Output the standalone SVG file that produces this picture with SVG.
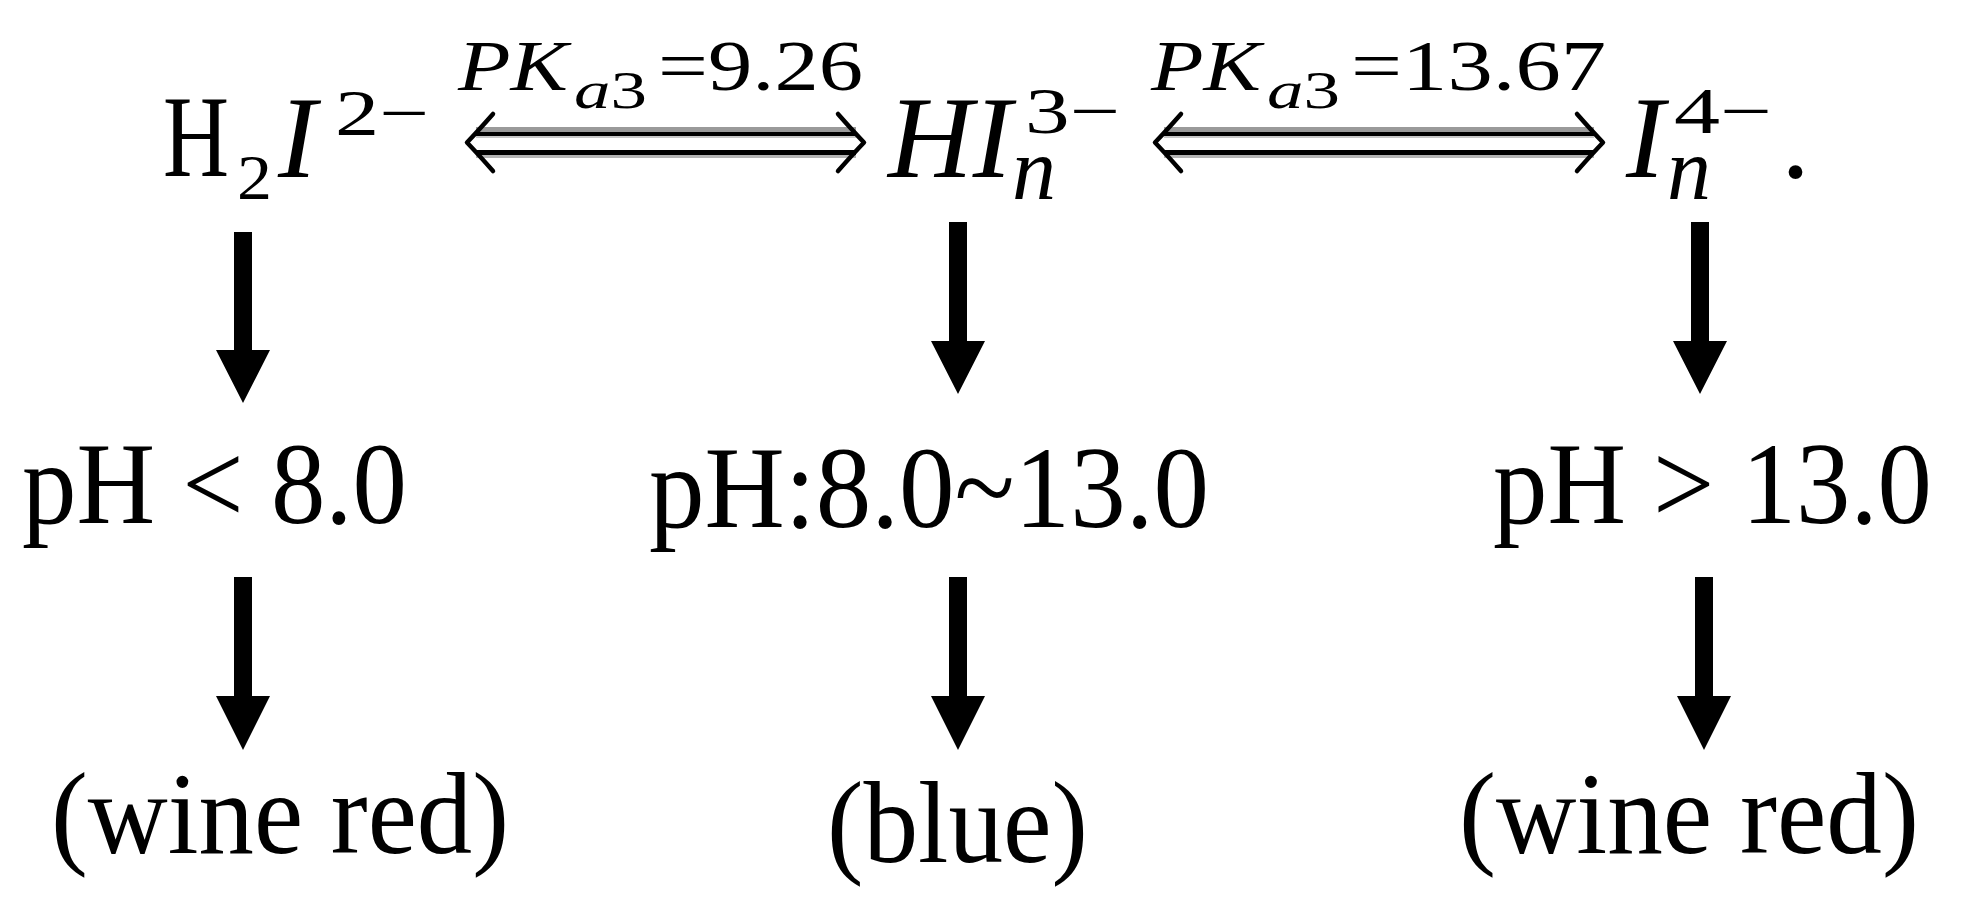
<svg xmlns="http://www.w3.org/2000/svg" width="1965" height="911" viewBox="0 0 1965 911">
<style>
.t{font-family:"Liberation Serif","Times New Roman",serif;fill:#000}
.i{font-style:italic}
.m{font-size:116px}
.sup{font-size:66px}
.sub{font-size:88px}
.lab{font-size:71px}
.labs{font-size:53px}
.arr{fill:#000}
.hook{fill:none;stroke:#000;stroke-width:4.5;stroke-linecap:round;stroke-linejoin:round}
.g1{fill:#9a9a9a}
.g2{fill:#c8c8c8}
.g3{fill:#b4b4b4}
.bk{fill:#000}
</style>
<rect width="1965" height="911" fill="#fff"/>

<g id="node-H2I">
<text class="t m" x="163" y="176" textLength="66" lengthAdjust="spacingAndGlyphs">H</text>
<text class="t" style="font-size:64px" x="237" y="199" textLength="35" lengthAdjust="spacingAndGlyphs">2</text>
<text class="t m i" x="278" y="177">I</text>
<text class="t sup" x="335" y="135" textLength="94" lengthAdjust="spacingAndGlyphs">2−</text>
</g>

<g id="node-HIn">
<text class="t m i" x="888" y="177" textLength="124" lengthAdjust="spacingAndGlyphs">HI</text>
<text class="t sup" x="1025" y="133" textLength="95" lengthAdjust="spacingAndGlyphs">3−</text>
<text class="t sub i" x="1012" y="199">n</text>
</g>

<g id="node-In">
<text class="t m i" x="1626" y="177">I</text>
<text class="t sup" x="1674" y="133" textLength="98" lengthAdjust="spacingAndGlyphs">4−</text>
<text class="t sub i" x="1667" y="199">n</text>
<text class="t m" x="1781" y="177">.</text>
</g>

<g id="label-pka1">
<text class="t lab i" x="458" y="90" textLength="110" lengthAdjust="spacingAndGlyphs">PK</text>
<text class="t labs" x="574" y="108" textLength="73" lengthAdjust="spacingAndGlyphs"><tspan class="i">a</tspan>3</text>
<text class="t lab" x="658" y="90" textLength="205" lengthAdjust="spacingAndGlyphs">=9.26</text>
</g>

<g id="label-pka2">
<text class="t lab i" x="1151" y="90" textLength="110" lengthAdjust="spacingAndGlyphs">PK</text>
<text class="t labs" x="1267" y="108" textLength="73" lengthAdjust="spacingAndGlyphs"><tspan class="i">a</tspan>3</text>
<text class="t lab" x="1351" y="90" textLength="255" lengthAdjust="spacingAndGlyphs">=13.67</text>
</g>

<g id="node-ph1">
<text class="t m" x="22" y="523" textLength="385" lengthAdjust="spacingAndGlyphs">pH &lt; 8.0</text>
</g>
<g id="node-ph2">
<text class="t m" x="649" y="527" textLength="560" lengthAdjust="spacingAndGlyphs">pH:8.0~13.0</text>
</g>
<g id="node-ph3">
<text class="t m" x="1493" y="523" textLength="439" lengthAdjust="spacingAndGlyphs">pH &gt; 13.0</text>
</g>

<g id="node-c1">
<text class="t m" x="51" y="853" textLength="458" lengthAdjust="spacingAndGlyphs">(wine red)</text>
</g>
<g id="node-c2">
<text class="t m" x="827" y="862" textLength="261" lengthAdjust="spacingAndGlyphs">(blue)</text>
</g>
<g id="node-c3">
<text class="t m" x="1459" y="853" textLength="460" lengthAdjust="spacingAndGlyphs">(wine red)</text>
</g>

<g id="connectors">
<g id="eq1">
<rect class="g1" x="476" y="127" width="380" height="5"/>
<rect class="bk" x="476" y="132" width="380" height="4"/>
<rect class="g2" x="476" y="136" width="380" height="2"/>
<rect class="bk" x="476" y="150" width="380" height="5"/>
<rect class="g3" x="476" y="155" width="380" height="3"/>
<path class="hook" d="M493 114 Q478 131 467 142.5 Q478 154 493 171"/>
<path class="hook" d="M838 114 Q853 131 864 142.5 Q853 154 838 171"/>
</g>
<g id="eq2">
<rect class="g1" x="1164" y="127" width="430" height="5"/>
<rect class="bk" x="1164" y="132" width="430" height="4"/>
<rect class="g2" x="1164" y="136" width="430" height="2"/>
<rect class="bk" x="1164" y="150" width="430" height="5"/>
<rect class="g3" x="1164" y="155" width="430" height="3"/>
<path class="hook" d="M1181 114 Q1166 131 1155 142.5 Q1166 154 1181 171"/>
<path class="hook" d="M1577 114 Q1592 131 1603 142.5 Q1592 154 1577 171"/>
</g>
<polygon class="arr" points="234,232 252,232 252,350 270,350 243,403 216,350 234,350"/>
<polygon class="arr" points="949,222 967,222 967,341 985,341 958,394 931,341 949,341"/>
<polygon class="arr" points="1691,222 1709,222 1709,341 1727,341 1700,394 1673,341 1691,341"/>
<polygon class="arr" points="234,577 252,577 252,696 270,696 243,750 216,696 234,696"/>
<polygon class="arr" points="949,577 967,577 967,696 985,696 958,750 931,696 949,696"/>
<polygon class="arr" points="1695,577 1713,577 1713,696 1731,696 1704,750 1677,696 1695,696"/>
</g>
</svg>
